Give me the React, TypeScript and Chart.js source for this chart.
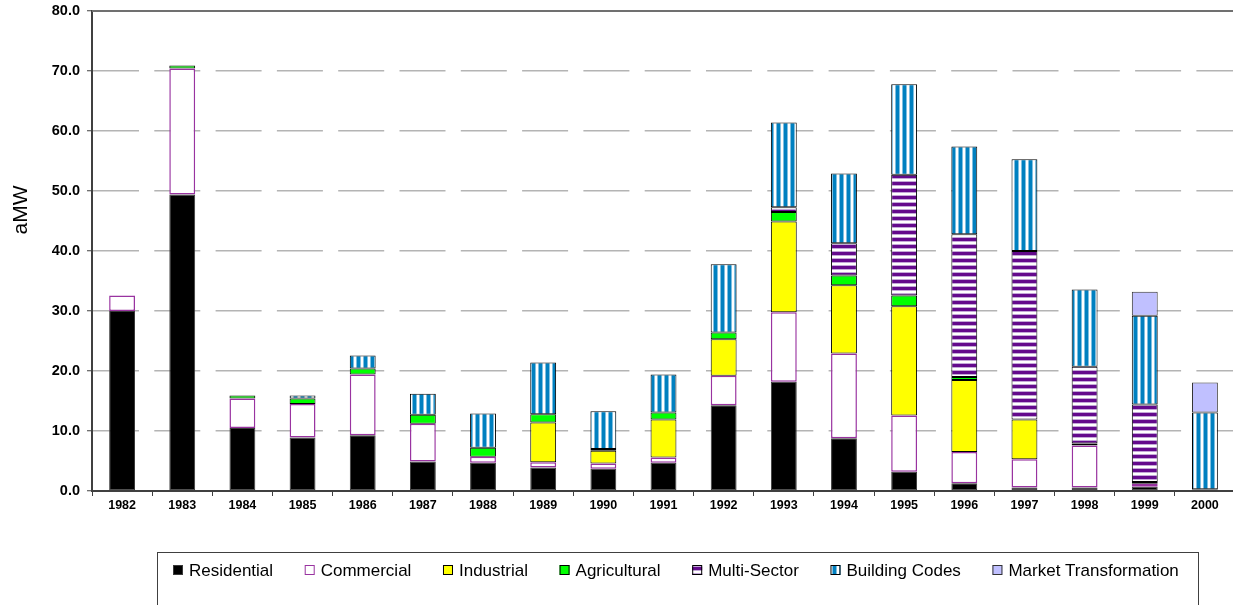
import React, { useEffect, useRef } from "react";
import { Chart, registerables } from "chart.js";
Chart.register(...registerables);

const years = ["1982","1983","1984","1985","1986","1987","1988","1989","1990","1991","1992","1993","1994","1995","1996","1997","1998","1999","2000"];
const residential = [30.0, 49.4, 10.5, 8.9, 9.3, 4.9, 4.7, 3.9, 3.7, 4.7, 14.3, 18.2, 8.8, 3.2, 1.3, 0.6, 0.6, 0.7, 0.3];
const commercial = [2.6, 21.0, 4.9, 5.6, 10.1, 6.3, 1.0, 0.9, 0.9, 0.9, 4.9, 11.6, 14.1, 9.4, 5.2, 4.7, 7.0, 0.5, null];
const industrial = [null, null, null, null, null, null, null, 6.6, 2.1, 6.3, 6.1, 15.1, 11.4, 18.2, 12.0, 6.6, 0.3, 0.3, null];
const agricultural = [null, 0.5, 0.5, 0.9, 1.0, 1.5, 1.5, 1.4, 0.3, 1.2, 1.1, 1.6, 1.6, 1.8, 0.5, null, null, null, null];
const multiSector = [null, null, null, null, null, null, null, null, null, null, null, 0.8, 5.4, 20.1, 23.8, 28.1, 12.8, 12.9, null];
const buildingCodes = [null, null, null, 0.5, 2.2, 3.5, 5.7, 8.6, 6.3, 6.3, 11.4, 14.1, 11.6, 15.1, 14.6, 15.3, 12.9, 14.8, 12.8];
const marketTransformation = [null, null, null, null, null, null, null, null, null, null, null, null, null, null, null, null, null, 4.0, 5.0];
const seriesNames = ["Residential", "Commercial", "Industrial", "Agricultural", "Multi-Sector", "Building Codes", "Market Transformation"];
const yAxisTitle = "aMW";

function vStripe(ctx: CanvasRenderingContext2D) {
  const c = document.createElement("canvas");
  c.width = 7; c.height = 7;
  const g = c.getContext("2d")!;
  const cols = ["#0080C0", "#0080C0", "#0080C0", "#7FBFE0", "#FFFFFF", "#FFFFFF", "#7FBFE0"];
  cols.forEach((col, i) => { g.fillStyle = col; g.fillRect(i, 0, 1, 7); });
  return ctx.createPattern(c, "repeat")!;
}
function hStripe(ctx: CanvasRenderingContext2D) {
  const c = document.createElement("canvas");
  c.width = 7; c.height = 7;
  const g = c.getContext("2d")!;
  const rows = ["#640A8C", "#640A8C", "#640A8C", "#C4A8D8", "#FFFFFF", "#FFFFFF", "#C4A8D8"];
  rows.forEach((col, i) => { g.fillStyle = col; g.fillRect(0, i, 7, 1); });
  return ctx.createPattern(c, "repeat")!;
}

const FONT = '"Liberation Sans", Arial, sans-serif';

const extrasPlugin = {
  id: "extras",
  afterDraw(chart: any) {
    const ctx = chart.ctx as CanvasRenderingContext2D;
    const area = chart.chartArea;
    ctx.save();
    // top border
    ctx.strokeStyle = "#707070";
    ctx.lineWidth = 2;
    ctx.beginPath();
    ctx.moveTo(area.left, area.top);
    ctx.lineTo(area.right, area.top);
    ctx.stroke();
    // y title
    ctx.save();
    ctx.translate(21, 210);
    ctx.rotate(-Math.PI / 2);
    ctx.font = "21px " + FONT;
    ctx.fillStyle = "#000";
    ctx.textAlign = "center";
    ctx.textBaseline = "middle";
    ctx.fillText(yAxisTitle, 0, 0);
    ctx.restore();
    // legend box
    ctx.strokeStyle = "#404040";
    ctx.lineWidth = 1;
    ctx.strokeRect(157.5, 552.5, 1041, 80);
    ctx.font = "17px " + FONT;
    ctx.textBaseline = "middle";
    ctx.textAlign = "left";
    let x = 173;
    const y = 570;
    chart.data.datasets.forEach((ds: any) => {
      ctx.fillStyle = ds.backgroundColor;
      ctx.fillRect(x, y - 5, 10, 10);
      ctx.strokeStyle = ds.borderColor;
      ctx.lineWidth = 1;
      ctx.strokeRect(x + 0.5, y - 4.5, 9, 9);
      ctx.fillStyle = "#000";
      ctx.fillText(ds.label, x + 16, y + 1);
      x += 16 + ctx.measureText(ds.label).width + 31.6;
    });
    ctx.restore();
  },
};

export default function App() {
  const ref = useRef<HTMLCanvasElement>(null);
  useEffect(() => {
    const canvas = ref.current!;
    const ctx = canvas.getContext("2d")!;
    const ms = hStripe(ctx);
    const bc = vStripe(ctx);
    const common = { borderWidth: 1, borderSkipped: false as const, barPercentage: 0.43, categoryPercentage: 1 };
    const chart = new Chart(canvas, {
      type: "bar",
      data: {
        labels: years,
        datasets: [
          { label: seriesNames[0], data: residential, backgroundColor: "#000000", borderColor: "#3a3a3a", ...common },
          { label: seriesNames[1], data: commercial, backgroundColor: "#FFFFFF", borderColor: "#9933A0", ...common, borderWidth: 1.5 },
          { label: seriesNames[2], data: industrial, backgroundColor: "#FFFF00", borderColor: "#000000", ...common },
          { label: seriesNames[3], data: agricultural, backgroundColor: "#00FF00", borderColor: "#000000", ...common },
          { label: seriesNames[4], data: multiSector, backgroundColor: ms as any, borderColor: "#000000", ...common },
          { label: seriesNames[5], data: buildingCodes, backgroundColor: bc as any, borderColor: "#000000", ...common },
          { label: seriesNames[6], data: marketTransformation, backgroundColor: "#C0C0FF", borderColor: "#333333", ...common },
        ] as any,
      },
      options: {
        responsive: false,
        animation: false,
        devicePixelRatio: 1,
        layout: { padding: { left: 0, right: 5, top: 11, bottom: 0 } },
        plugins: { legend: { display: false }, tooltip: { enabled: false }, title: { display: false } },
        scales: {
          x: {
            stacked: true,
            offset: true,
            grid: { offset: true, drawOnChartArea: false, drawTicks: true, tickLength: 5, tickColor: "#404040", tickWidth: 1 },
            border: { display: true, color: "#404040", width: 2 },
            ticks: { color: "#000", font: { family: FONT, size: 12.5, weight: "bold" }, padding: 2, maxRotation: 0, autoSkip: false },
            afterFit: (s: any) => { s.height = 114; s.paddingLeft = 0; s.paddingRight = 0; },
          },
          y: {
            stacked: true,
            min: 0,
            max: 80,
            grid: { color: "#B4B4B4", lineWidth: 1.5, drawTicks: true, tickLength: 5, tickColor: "#404040", tickWidth: 1 },
            border: { display: true, color: "#404040", width: 2, dash: [46, 15.3] },
            ticks: { stepSize: 10, color: "#000", font: { family: FONT, size: 14.5, weight: "bold" }, padding: 7, callback: (v: any) => Number(v).toFixed(1) },
            afterFit: (s: any) => { s.width = 92; s.paddingTop = 0; s.paddingBottom = 0; },
          },
        },
      } as any,
      plugins: [extrasPlugin],
    });
    return () => chart.destroy();
  }, []);
  return (
    <div style={{ position: "fixed", left: 0, top: 0, width: 1233, height: 605, overflow: "hidden", background: "#fff" }}>
      <canvas ref={ref} width={1240} height={605} style={{ width: 1240, height: 605, display: "block" }} />
    </div>
  );
}
